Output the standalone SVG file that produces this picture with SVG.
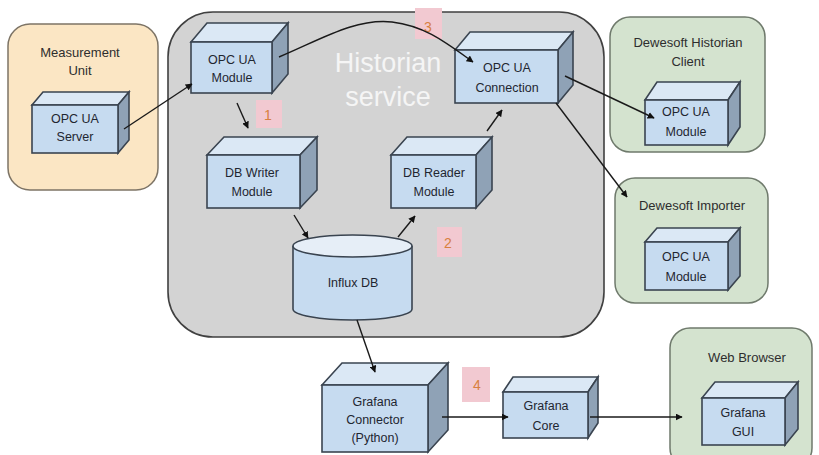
<svg xmlns="http://www.w3.org/2000/svg" width="819" height="455" viewBox="0 0 819 455">
<defs>
<marker id="ah" viewBox="0 0 10 10" refX="9" refY="5" markerWidth="7" markerHeight="7" markerUnits="userSpaceOnUse" orient="auto"><path d="M0,0 L10,5 L0,10 z" fill="#111"/></marker>
</defs>
<style>
.front{fill:#c6dbf0;stroke:#3a4450;stroke-width:1.6}
.top{fill:#dbe8f5;stroke:#3a4450;stroke-width:1.6}
.side{fill:#8fa2b6;stroke:#3a4450;stroke-width:1.6}
.t{font-family:"Liberation Sans",Arial,sans-serif;font-size:12.5px;fill:#1f2630;text-anchor:middle}
.ct{font-family:"Liberation Sans",Arial,sans-serif;font-size:13px;fill:#2e2e2e;text-anchor:middle}
.cont-g{fill:#d4e3cf;stroke:#6f7a6c;stroke-width:1.5}
.num{fill:#f2c9d1}
.nt{font-family:"Liberation Sans",Arial,sans-serif;font-size:14px;fill:#d88040;text-anchor:middle}
.c{fill:none;stroke:#1a1a1a;stroke-width:1.4;marker-end:url(#ah)}
</style>
<rect width="819" height="455" fill="#ffffff"/>

<g id="measurement-unit">
<rect x="8" y="24" width="150" height="166" rx="22" fill="#fbe6c4" stroke="#7d7466" stroke-width="1.5"/>
<text class="ct" x="80" y="57">Measurement</text>
<text class="ct" x="80" y="75">Unit</text>
</g>

<g id="historian-service">
<rect x="168" y="12" width="436" height="325" rx="45" fill="#d3d3d3" stroke="#404040" stroke-width="1.6"/>
<text x="388" y="72" font-family="'Liberation Sans',Arial,sans-serif" font-size="27" fill="#f5f5f5" text-anchor="middle">Historian</text>
<text x="388" y="106" font-family="'Liberation Sans',Arial,sans-serif" font-size="27" fill="#f5f5f5" text-anchor="middle">service</text>
</g>

<g id="dewesoft-historian-client">
<rect x="610" y="17" width="155" height="135" rx="20" class="cont-g"/>
<text class="ct" x="688" y="47">Dewesoft Historian</text>
<text class="ct" x="688" y="66">Client</text>
</g>

<g id="dewesoft-importer">
<rect x="615" y="178" width="153" height="125" rx="20" class="cont-g"/>
<text class="ct" x="692" y="210">Dewesoft Importer</text>
</g>

<g id="web-browser">
<rect x="670" y="328" width="142" height="140" rx="20" class="cont-g"/>
<text class="ct" x="747" y="362">Web Browser</text>
</g>

<g id="labels">
<rect class="num" x="415" y="8" width="27" height="31"/>
<text class="nt" x="428" y="32">3</text>
<rect class="num" x="256" y="100" width="26" height="28"/>
<text class="nt" x="268" y="120">1</text>
<rect class="num" x="437" y="227" width="25" height="30"/>
<text class="nt" x="448" y="248">2</text>
<rect class="num" x="462" y="367" width="28" height="35"/>
<text class="nt" x="477" y="390">4</text>
</g>

<g id="opc-ua-server">
<polygon class="top" points="32,105 43,92 129,92 118,105"/>
<polygon class="side" points="118,105 129,92 129,140 118,153"/>
<rect class="front" x="32" y="105" width="86" height="48"/>
<text class="t" x="75" y="123">OPC UA</text>
<text class="t" x="75" y="141">Server</text>
</g>

<g id="opc-ua-module">
<polygon class="top" points="191,42 207,23 288,23 272,42"/>
<polygon class="side" points="272,42 288,23 288,74 272,93"/>
<rect class="front" x="191" y="42" width="81" height="51"/>
<text class="t" x="232" y="64">OPC UA</text>
<text class="t" x="232" y="82">Module</text>
</g>

<g id="opc-ua-connection">
<polygon class="top" points="455,50 470,32 573,32 558,50"/>
<polygon class="side" points="558,50 573,32 573,85 558,103"/>
<rect class="front" x="455" y="50" width="103" height="53"/>
<text class="t" x="507" y="72">OPC UA</text>
<text class="t" x="507" y="92">Connection</text>
</g>

<g id="db-writer-module">
<polygon class="top" points="207,155 224,137 317,137 300,155"/>
<polygon class="side" points="300,155 317,137 317,190 300,208"/>
<rect class="front" x="207" y="155" width="93" height="53"/>
<text class="t" x="252" y="177">DB Writer</text>
<text class="t" x="252" y="196">Module</text>
</g>

<g id="db-reader-module">
<polygon class="top" points="391,155 407,137 492,137 476,155"/>
<polygon class="side" points="476,155 492,137 492,190 476,208"/>
<rect class="front" x="391" y="155" width="85" height="53"/>
<text class="t" x="434" y="177">DB Reader</text>
<text class="t" x="434" y="196">Module</text>
</g>

<g id="influx-db">
<path d="M293,246 L293,309 A59.5,11 0 0 0 412,309 L412,246" fill="#c6dbf0" stroke="#3a4450" stroke-width="1.6"/>
<ellipse cx="352.5" cy="246" rx="59.5" ry="11" fill="#e6eef7" stroke="#3a4450" stroke-width="1.6"/>
<text class="t" x="353" y="287">Influx DB</text>
</g>

<g id="dhc-opc-ua-module">
<polygon class="top" points="645,100 657,82 740,82 728,100"/>
<polygon class="side" points="728,100 740,82 740,127 728,145"/>
<rect class="front" x="645" y="100" width="83" height="45"/>
<text class="t" x="686" y="116">OPC UA</text>
<text class="t" x="686" y="136">Module</text>
</g>

<g id="importer-opc-ua-module">
<polygon class="top" points="645,242 657,228 740,228 728,242"/>
<polygon class="side" points="728,242 740,228 740,276 728,290"/>
<rect class="front" x="645" y="242" width="83" height="48"/>
<text class="t" x="686" y="261">OPC UA</text>
<text class="t" x="686" y="281">Module</text>
</g>

<g id="grafana-connector">
<polygon class="top" points="322,385 342,363 448,363 428,385"/>
<polygon class="side" points="428,385 448,363 448,430 428,452"/>
<rect class="front" x="322" y="385" width="106" height="67"/>
<text class="t" x="375" y="406">Grafana</text>
<text class="t" x="375" y="424">Connector</text>
<text class="t" x="375" y="442">(Python)</text>
</g>

<g id="grafana-core">
<polygon class="top" points="503,392 513,377 598,377 588,392"/>
<polygon class="side" points="588,392 598,377 598,423 588,438"/>
<rect class="front" x="503" y="392" width="85" height="46"/>
<text class="t" x="546" y="410">Grafana</text>
<text class="t" x="546" y="430">Core</text>
</g>

<g id="grafana-gui">
<polygon class="top" points="702,398 715,382 798,382 785,398"/>
<polygon class="side" points="785,398 798,382 798,429 785,445"/>
<rect class="front" x="702" y="398" width="83" height="47"/>
<text class="t" x="743" y="417">Grafana</text>
<text class="t" x="743" y="436">GUI</text>
</g>

<g id="connectors">
<path class="c" d="M124,129 L192,84"/>
<path class="c" d="M279,57 C320,40 355,18 392,22 C425,26 445,42 473,62"/>
<path class="c" d="M237,103 L248,128"/>
<path class="c" d="M294,215 L308,238"/>
<path class="c" d="M398,237 L415,216"/>
<path class="c" d="M487,131 L502,110"/>
<path class="c" d="M565,76 L654,118"/>
<path class="c" d="M556,103 L627,197"/>
<path class="c" d="M357,320 L375,372"/>
<path class="c" d="M442,417 L508,417"/>
<path class="c" d="M590,417 L682,417"/>
</g>
</svg>
